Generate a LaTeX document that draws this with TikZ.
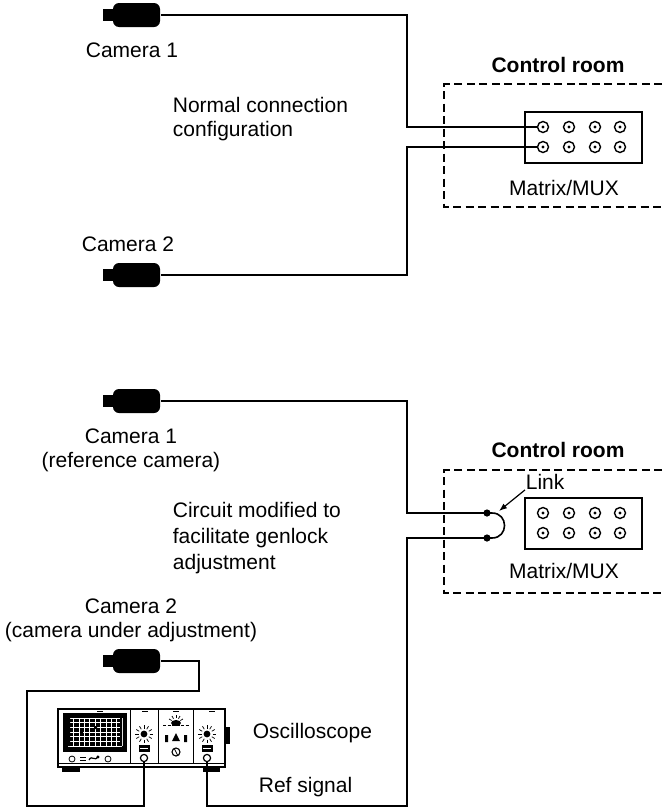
\documentclass[tikz,border=0pt]{standalone}
\usepackage{fontspec}
\setmainfont{Liberation Sans}
\usetikzlibrary{arrows.meta}

\begin{document}
\begin{tikzpicture}[x=1pt,y=-1pt,line width=1.8pt,>={Latex[length=8pt,width=6pt]},
  every node/.style={font=\fontsize{21}{25}\selectfont},
  lbl/.style={anchor=base,inner sep=0pt},
  camera/.style={fill=black,rounded corners=6pt,minimum width=47pt,minimum height=24pt,inner sep=0pt},
  jack/.style={circle,draw,line width=1.4pt,minimum size=11pt,inner sep=0pt},
  room/.style={line width=2.2pt,dash pattern=on 8pt off 4.5pt},
  mux/.style={draw,line width=1.5pt,minimum width=117pt,minimum height=51pt,inner sep=0pt},
  thin/.style={line width=0.8pt}]
  \useasboundingbox (0,0) rectangle (662,809);

  % cameras (body + lens)
  \foreach \n/\y in {1/15,2/275,3/401,4/661}{
    \node[camera] (cam\n) at (136.5,\y) {};
    \fill (103,\y-6) rectangle (116,\y+6);
  }

  % ---------- normal connection ----------
  \node[lbl] (c1lbl) at (132,57) {Camera 1};
  \node[lbl] (c2lbl) at (128,251) {Camera 2};
  \node[lbl,anchor=base west] (norm1) at (172,112) {Normal connection};
  \node[lbl,anchor=base west] (norm2) at (172,136) {configuration};
  % control room
  \node[lbl,font=\fontsize{21}{25}\selectfont\bfseries] (rooma) at (558,72) {Control room};
  \draw[room] (662,84) -| (444,207) -- (662,207);
  \node[mux] (mxa) at (583.5,137.5) {};
  \foreach \r/\y in {1/127,2/147}{
    \foreach \c/\x in {1/543,2/569,3/595,4/620}{
      \node[jack] (ja\r\c) at (\x,\y) {};
      \fill (ja\r\c) circle (1.7pt);
    }
  }
  \node[lbl] (mxalbl) at (564,195) {Matrix/MUX};
  % cables
  \coordinate (ka) at (407,127);
  \coordinate (kb) at (407,147);
  \draw (cam1.east) -| (ka) -- (ja11.west);
  \draw (cam2.east) -| (kb) -- (ja21.west);

  % ---------- genlock adjustment ----------
  \node[lbl] (c3lbl) at (131,443) {Camera 1};
  \node[lbl] (c3sub) at (131,467) {(reference camera)};
  \node[lbl] (c4lbl) at (131,613) {Camera 2};
  \node[lbl] (c4sub) at (131,637) {(camera under adjustment)};
  \node[lbl,anchor=base west] (circ1) at (172,517) {Circuit modified to};
  \node[lbl,anchor=base west] (circ2) at (172,543) {facilitate genlock};
  \node[lbl,anchor=base west] (circ3) at (172,569) {adjustment};
  % control room
  \node[lbl,font=\fontsize{21}{25}\selectfont\bfseries] (roomb) at (558,457) {Control room};
  \draw[room] (662,470) -| (444,593) -- (662,593);
  \node[mux] (mxb) at (583.5,523.5) {};
  \foreach \r/\y in {1/513,2/533}{
    \foreach \c/\x in {1/543,2/569,3/595,4/620}{
      \node[jack] (jb\r\c) at (\x,\y) {};
      \fill (jb\r\c) circle (1.7pt);
    }
  }
  \node[lbl] (mxblbl) at (564,578) {Matrix/MUX};
  % link
  \coordinate (lka) at (487,513);
  \coordinate (lkb) at (487,538);
  \fill (lka) circle (3.6pt) (lkb) circle (3.6pt);
  \draw[line width=1.6pt] (lka) -- (492,513) .. controls (508.7,513) and (508.7,538) .. (492,538) -- (lkb);
  \node[lbl,anchor=base west] (lnk) at (525,489) {Link};
  \coordinate (lktip) at (499,511);
  \draw[->,line width=1.2pt] (lnk.south west) -- (lktip);

  % oscilloscope
  \node[draw,line width=1.5pt,minimum width=167pt,minimum height=58pt,inner sep=0pt] (scope) at (141.5,738) {};
  \draw[thin] (58,763) -- (225,763);
  \foreach \x in {130,158,193}
    \draw[thin] (\x,709) -- (\x,763);
  \foreach \x in {100,145,176,212}
    \draw[line width=0.5pt] (\x-3,711) -- (\x+3,711);
  \fill (62,767) rectangle (80,772);
  \fill (203,767) rectangle (220,772);
  \fill (225,727) rectangle (230,744);
  % screen
  \fill (63,713) rectangle (127,752);
  \foreach \i in {0,...,10}
    \draw[white,line width=0.6pt] (68+\i*5.4,718) -- (68+\i*5.4,746);
  \foreach \j in {0,...,6}
    \draw[white,line width=0.6pt] (68,718+\j*4.67) -- (122,718+\j*4.67);
  \fill (68,718) rectangle (70,746) (120,718) rectangle (122,746);
  \fill (94,726) rectangle (97,729) (80,731) rectangle (83,733);
  % front controls
  \draw[thin] (72,759) circle (3);
  \draw[thin] (80,757) -- (86,757) (80,760) -- (86,760);
  \draw[line width=1.2pt] (89,760) .. controls (92,754) and (95,763) .. (98,756);
  \fill (98,757) circle (1.6pt);
  \draw[thin] (108,759) circle (3);
  % channel knobs and inputs
  \foreach \x in {144,207}{
    \fill (\x,734) circle (3.4pt);
    \foreach \a in {0,30,...,330}
      \draw[line width=0.7pt] (\x,734) ++(\a:5.5) -- ++(\a:3.5);
    \draw[thin,fill=black] (\x-5,745) rectangle (\x+5,751);
    \draw[white,line width=0.6pt] (\x-4,748) -- (\x+4,748);
    \draw[line width=1.2pt] (\x,758) circle (3.6);
  }
  % trigger panel
  \fill (176,723) ellipse (5 and 3);
  \foreach \a in {-150,-120,...,-30}
    \draw[line width=0.7pt] (176,723) ++(\a:5) -- ++(\a:3);
  \draw[line width=0.8pt,dash pattern=on 3pt off 1.5pt] (163,725) -- (189,725);
  \fill (165,735) rectangle (168,742) (184,735) rectangle (187,742);
  \fill (176,733) -- (172,741) -- (180,741) -- cycle;
  \draw[line width=1.1pt] (176,752) circle (4);
  \draw[thin] (174,748) -- (178,756);
  \coordinate (ch1) at (144,762);
  \coordinate (ch2) at (207,762);
  \node[lbl,anchor=base west] (osc) at (252,738) {Oscilloscope};
  \node[lbl,anchor=base west] (ref) at (258,792) {Ref signal};

  % cables
  \coordinate (kc) at (407,513);
  \coordinate (kd) at (199,691);
  \coordinate (ke) at (27,806);
  \coordinate (kf) at (407,806);
  \draw (cam3.east) -| (kc) -- (lka);
  \draw (cam4.east) -| (kd) -| (ke) -| (ch1);
  \draw (ch2) |- (kf) |- (lkb);
\end{tikzpicture}
\end{document}
